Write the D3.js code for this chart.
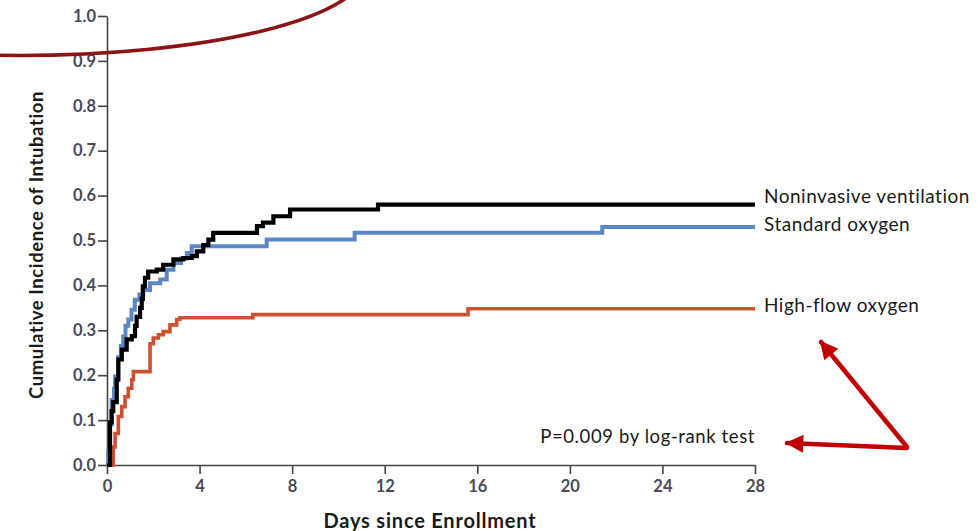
<!DOCTYPE html>
<html>
<head>
<meta charset="utf-8">
<script src="https://d3js.org/d3.v7.min.js"></script>
<style>
  body { margin: 0; background: #fff; }
  text { font-family: Lato, "Open Sans", sans-serif; }
</style>
</head>
<body>
<svg id="chart" width="978" height="531"></svg>
<script>

// Cumulative incidence step points (day, value)
var nivDays = [0, 0.13, 0.2, 0.27, 0.42, 0.49, 0.64, 0.85, 1.07, 1.21, 1.28, 1.43, 1.5, 1.55, 1.64, 1.78, 2.15, 2.43, 2.87, 3.3, 3.66, 3.88, 4.16, 4.38, 4.59, 6.48, 6.74, 7.19, 7.91, 11.71, 28];
var nivCum  = [0, 0.095, 0.12, 0.14, 0.19, 0.235, 0.257, 0.28, 0.287, 0.31, 0.33, 0.35, 0.37, 0.398, 0.417, 0.431, 0.435, 0.446, 0.458, 0.461, 0.465, 0.476, 0.49, 0.502, 0.517, 0.532, 0.54, 0.554, 0.569, 0.58, 0.58];

var stdDays = [0, 0.05, 0.12, 0.2, 0.3, 0.35, 0.48, 0.6, 0.7, 0.8, 0.92, 1.06, 1.2, 1.4, 1.57, 1.86, 2.3, 2.58, 2.87, 3.2, 3.45, 3.66, 6.9, 10.7, 21.4, 28];
var stdCum  = [0, 0.03, 0.09, 0.145, 0.17, 0.197, 0.24, 0.265, 0.286, 0.31, 0.324, 0.346, 0.368, 0.38, 0.39, 0.405, 0.413, 0.435, 0.45, 0.46, 0.472, 0.487, 0.502, 0.517, 0.53, 0.53];

var hfDays = [0, 0.27, 0.35, 0.49, 0.64, 0.78, 0.92, 1.07, 1.14, 1.86, 2.0, 2.22, 2.43, 2.72, 3.01, 3.15, 6.3, 15.6, 28];
var hfCum  = [0, 0.04, 0.07, 0.108, 0.13, 0.152, 0.171, 0.19, 0.208, 0.27, 0.283, 0.29, 0.297, 0.312, 0.324, 0.328, 0.335, 0.348, 0.348];

var seriesNames = ["High-flow oxygen", "Standard oxygen", "Noninvasive ventilation"];
var seriesColors = ["#cf4f2f", "#5b87c6", "#000000"];

var xTicks = [0, 4, 8, 12, 16, 20, 24, 28];
var yTicks = [0, 0.1, 0.2, 0.3, 0.4, 0.5, 0.6, 0.7, 0.8, 0.9, 1.0];

var pText = "P=0.009 by log-rank test";
var xTitle = "Days since Enrollment";
var yTitle = "Cumulative Incidence of Intubation";

var svg = d3.select("#chart");

// plot area
var mLeft = 107, mTop = 16, w = 648, h = 449;

var x = d3.scaleLinear().domain([0, 28]).range([mLeft, mLeft + w]);
var y = d3.scaleLinear().domain([0, 1]).range([mTop + h, mTop]);

// x axis
var xAxis = svg.append("g")
  .attr("transform", "translate(0," + (mTop + h) + ")")
  .call(d3.axisBottom(x).tickValues(xTicks).tickSize(9).tickPadding(6).tickSizeOuter(0));

// y axis
var yAxis = svg.append("g")
  .attr("transform", "translate(" + mLeft + ",0)")
  .call(d3.axisLeft(y).tickValues(yTicks).tickFormat(d3.format(".1f")).tickSize(9).tickPadding(2).tickSizeOuter(0));

[xAxis, yAxis].forEach(function(a) {
  a.select(".domain").attr("stroke", "#444").attr("stroke-width", 1.6);
  a.selectAll(".tick line").attr("stroke", "#444").attr("stroke-width", 1.6);
  a.selectAll(".tick text")
    .style("font-size", "16.5px")
    .style("font-family", "Lato, sans-serif")
    .style("font-weight", "bold")
    .attr("fill", "#4a4a55");
});

// curves
var series = [
  {days: hfDays, cum: hfCum, width: 3.6},
  {days: stdDays, cum: stdCum, width: 4},
  {days: nivDays, cum: nivCum, width: 4.2}
];

var line = d3.line()
  .x(function(d) { return x(d[0]); })
  .y(function(d) { return y(d[1]); })
  .curve(d3.curveStepAfter);

series.forEach(function(s, i) {
  var pts = s.days.map(function(d, j) { return [d, s.cum[j]]; });
  svg.append("path")
    .datum(pts)
    .attr("d", line)
    .attr("fill", "none")
    .attr("stroke", seriesColors[i])
    .attr("stroke-width", s.width);
});

// curve labels at the right end
var labelShift = [-2, -1, -6];
series.forEach(function(s, i) {
  svg.append("text")
    .attr("x", x(28) + 9)
    .attr("y", y(s.cum[s.cum.length - 1]) + labelShift[i])
    .attr("dominant-baseline", "middle")
    .style("font-size", "19px")
    .style("letter-spacing", "0.5px")
    .attr("fill", "#1a1a1a")
    .text(seriesNames[i]);
});

// p value
svg.append("text")
  .attr("x", x(28))
  .attr("y", y(0.06))
  .attr("text-anchor", "end")
  .attr("dominant-baseline", "middle")
  .style("font-size", "18.5px")
  .style("letter-spacing", "0.6px")
  .attr("fill", "#1a1a1a")
  .text(pText);

// axis titles
svg.append("text")
  .attr("x", 430)
  .attr("y", 528)
  .attr("text-anchor", "middle")
  .style("font-size", "20px")
  .style("font-weight", "bold")
  .style("letter-spacing", "0.8px")
  .attr("fill", "#1a1a1a")
  .text(xTitle);

svg.append("text")
  .attr("transform", "translate(43,245) rotate(-90)")
  .attr("text-anchor", "middle")
  .style("font-size", "18.5px")
  .style("font-weight", "bold")
  .style("letter-spacing", "0.6px")
  .attr("fill", "#1a1a1a")
  .text(yTitle);

// hand-drawn annotations laid over the figure
svg.append("ellipse")
  .attr("cx", 20).attr("cy", -30)
  .attr("rx", 345).attr("ry", 85.5)
  .attr("fill", "none")
  .attr("stroke", "#8c1414")
  .attr("stroke-width", 3.5);

var defs = svg.append("defs");
defs.append("marker")
  .attr("id", "head")
  .attr("viewBox", "0 0 10 10")
  .attr("refX", 9).attr("refY", 5)
  .attr("markerWidth", 5).attr("markerHeight", 4)
  .attr("markerUnits", "strokeWidth")
  .attr("orient", "auto")
  .append("path")
    .attr("d", "M0,0 L10,5 L0,10 Z")
    .attr("fill", "#c00000");

var arrows = [
  [[907, 447], [821, 342]],
  [[907, 448], [787, 443]]
];
arrows.forEach(function(a) {
  svg.append("line")
    .attr("x1", a[0][0]).attr("y1", a[0][1])
    .attr("x2", a[1][0]).attr("y2", a[1][1])
    .attr("stroke", "#c00000")
    .attr("stroke-width", 4.5)
    .attr("stroke-linecap", "round")
    .attr("marker-end", "url(#head)");
});

</script>
</body>
</html>
